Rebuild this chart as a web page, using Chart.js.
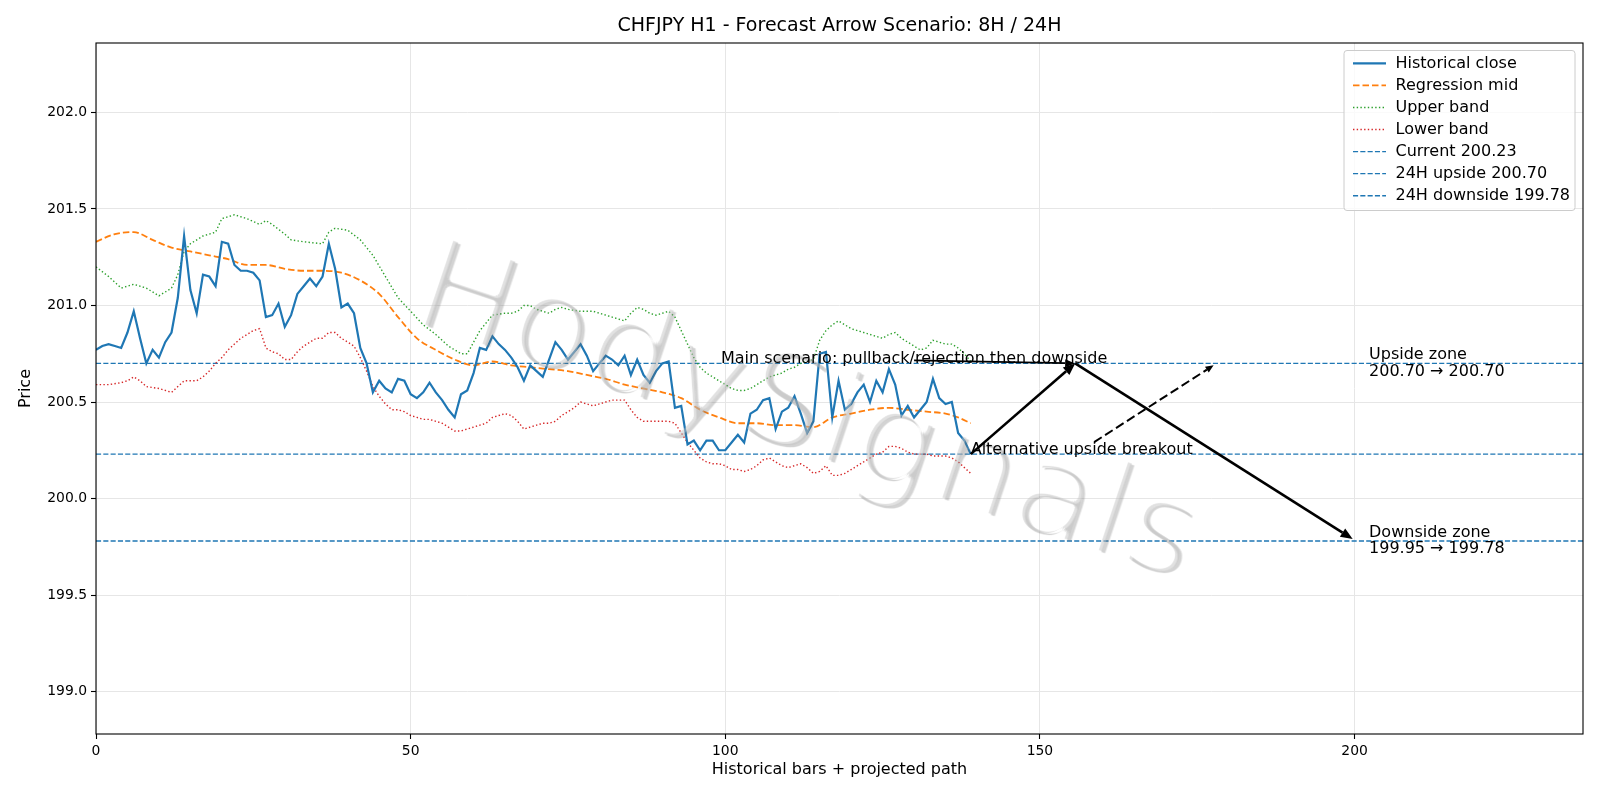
<!DOCTYPE html>
<html>
<head>
<meta charset="utf-8">
<script src="https://cdn.jsdelivr.net/npm/chart.js@4.4.0/dist/chart.umd.min.js"></script>
<style>
  body { margin: 0; background: #fff; }
  canvas { display: block; }
</style>
</head>
<body>
<canvas id="chart" width="1600" height="800"></canvas>
<script>
// historical closes, one per bar (x = 0..139)
const closeValues = [
  200.77, 200.79, 200.80, 200.79, 200.78, 200.86, 200.97, 200.83, 200.70, 200.77,
  200.73, 200.81, 200.86, 201.04, 201.36, 201.08, 200.96, 201.16, 201.15, 201.10,
  201.33, 201.32, 201.21, 201.18, 201.18, 201.17, 201.13, 200.94, 200.95, 201.01,
  200.89, 200.95, 201.06, 201.10, 201.14, 201.10, 201.15, 201.32, 201.19, 200.99,
  201.01, 200.96, 200.78, 200.70, 200.55, 200.61, 200.57, 200.55, 200.62, 200.61,
  200.54, 200.52, 200.55, 200.60, 200.55, 200.51, 200.46, 200.42, 200.54, 200.56,
  200.65, 200.78, 200.77, 200.84, 200.80, 200.77, 200.73, 200.68, 200.61, 200.69,
  200.66, 200.63, 200.72, 200.81, 200.77, 200.72, 200.76, 200.80, 200.74, 200.66,
  200.70, 200.74, 200.72, 200.69, 200.74, 200.64, 200.72, 200.64, 200.60, 200.66,
  200.70, 200.71, 200.47, 200.48, 200.28, 200.30, 200.25, 200.30, 200.30, 200.25,
  200.25, 200.29, 200.33, 200.29, 200.44, 200.46, 200.51, 200.52, 200.36, 200.45,
  200.47, 200.53, 200.44, 200.34, 200.40, 200.75, 200.76, 200.42, 200.61, 200.46,
  200.49, 200.55, 200.59, 200.50, 200.61, 200.55, 200.67, 200.59, 200.43, 200.48,
  200.42, 200.46, 200.50, 200.62, 200.52, 200.49, 200.50, 200.34, 200.30, 200.23
];

// regression mid (read every 3 bars)
const midX = [0, 3, 6, 9, 12, 15, 18, 21, 24, 27, 30, 33, 36, 39, 42, 45, 48, 51, 54, 57,
  60, 63, 66, 69, 72, 75, 78, 81, 84, 87, 90, 93, 96, 99, 102, 105, 108, 111, 114, 117,
  120, 123, 126, 129, 132, 135, 137, 139];
const midValues = [201.33, 201.37, 201.38, 201.34, 201.30, 201.28, 201.26, 201.24, 201.21, 201.21,
  201.19, 201.18, 201.18, 201.17, 201.13, 201.06, 200.94, 200.83, 200.77, 200.72,
  200.69, 200.71, 200.69, 200.68, 200.67, 200.66, 200.64, 200.62, 200.59, 200.57,
  200.55, 200.52, 200.46, 200.42, 200.39, 200.39, 200.38, 200.38, 200.37, 200.42,
  200.44, 200.46, 200.47, 200.46, 200.45, 200.44, 200.42, 200.39];

const upperX = [0, 2, 4, 6, 8, 10, 12, 13, 14, 15, 17, 19, 20, 22, 24, 26, 27, 28, 30, 31,
  33, 36, 37, 38, 40, 42, 44, 46, 48, 50, 52, 54, 56, 58, 59, 60, 61, 62, 63, 65,
  66, 67, 68, 69, 70, 72, 73, 74, 75, 77, 79, 81, 83, 84, 85, 86, 87, 88, 89, 90,
  91, 92, 93, 94, 95, 96, 97, 98, 99, 100, 101, 102, 103, 104, 105, 106, 107, 108, 109, 110,
  111, 112, 113, 114, 115, 116, 117, 118, 119, 120, 121, 122, 123, 124, 125, 126, 127, 128, 129, 130,
  131, 132, 133, 134, 135, 136, 137, 138, 139];
const upperValues = [201.20, 201.15, 201.09, 201.11, 201.09, 201.05, 201.09, 201.16, 201.28, 201.32,
  201.36, 201.38, 201.45, 201.47, 201.45, 201.42, 201.44, 201.42, 201.37, 201.34,
  201.33, 201.32, 201.38, 201.40, 201.39, 201.34, 201.26, 201.15, 201.04, 200.97,
  200.90, 200.85, 200.79, 200.75, 200.75, 200.81, 200.87, 200.91, 200.95, 200.96,
  200.96, 200.97, 201.00, 201.00, 200.98, 200.96, 200.98, 200.99, 200.98, 200.97,
  200.97, 200.95, 200.93, 200.92, 200.96, 200.99, 200.98, 200.96, 200.95, 200.96,
  200.97, 200.94, 200.87, 200.80, 200.73, 200.68, 200.65, 200.63, 200.61, 200.59,
  200.57, 200.56, 200.56, 200.57, 200.59, 200.61, 200.63, 200.64, 200.65, 200.67,
  200.68, 200.70, 200.71, 200.72, 200.82, 200.87, 200.90, 200.92, 200.90, 200.88,
  200.87, 200.86, 200.85, 200.84, 200.83, 200.85, 200.86, 200.83, 200.81, 200.79,
  200.77, 200.78, 200.82, 200.81, 200.80, 200.80, 200.78, 200.75, 200.71];

const lowerX = [0, 2, 4, 5, 6, 7, 8, 10, 12, 13, 14, 16, 17, 18, 19, 20, 21, 22, 23, 24,
  25, 26, 27, 28, 29, 30, 31, 32, 33, 34, 35, 36, 37, 38, 39, 40, 41, 42, 43, 44,
  45, 46, 47, 48, 49, 50, 51, 52, 53, 54, 55, 56, 57, 58, 59, 60, 61, 62, 63, 64,
  65, 66, 67, 68, 69, 70, 71, 72, 73, 74, 75, 76, 77, 78, 79, 80, 81, 82, 83, 84,
  85, 86, 87, 88, 89, 90, 91, 92, 93, 94, 95, 96, 97, 98, 99, 100, 101, 102, 103, 104,
  105, 106, 107, 108, 109, 110, 111, 112, 113, 114, 115, 116, 117, 118, 119, 120, 121, 122, 123, 124,
  125, 126, 127, 128, 129, 130, 131, 132, 133, 134, 135, 136, 137, 138, 139];
const lowerValues = [200.59, 200.59, 200.60, 200.61, 200.63, 200.61, 200.58, 200.57, 200.55, 200.58,
  200.61, 200.61, 200.63, 200.66, 200.70, 200.73, 200.77, 200.80, 200.83, 200.85,
  200.87, 200.88, 200.78, 200.76, 200.75, 200.72, 200.72, 200.76, 200.79, 200.81,
  200.83, 200.83, 200.86, 200.86, 200.83, 200.81, 200.79, 200.73, 200.66, 200.58,
  200.53, 200.49, 200.46, 200.46, 200.45, 200.43, 200.42, 200.41, 200.41, 200.40,
  200.39, 200.37, 200.35, 200.35, 200.36, 200.37, 200.38, 200.39, 200.42, 200.43,
  200.44, 200.43, 200.40, 200.36, 200.37, 200.38, 200.39, 200.39, 200.40, 200.43,
  200.45, 200.47, 200.50, 200.49, 200.48, 200.49, 200.50, 200.51, 200.51, 200.51,
  200.46, 200.42, 200.40, 200.40, 200.40, 200.40, 200.40, 200.39, 200.34, 200.29,
  200.25, 200.21, 200.19, 200.18, 200.18, 200.17, 200.15, 200.15, 200.14, 200.15,
  200.17, 200.20, 200.21, 200.19, 200.17, 200.16, 200.17, 200.18, 200.16, 200.13,
  200.14, 200.17, 200.12, 200.12, 200.13, 200.15, 200.17, 200.19, 200.21, 200.23,
  200.24, 200.27, 200.27, 200.26, 200.24, 200.23, 200.23, 200.23, 200.22, 200.22,
  200.22, 200.21, 200.19, 200.16, 200.13];

const levelValues = [200.23, 200.70, 199.78];
const levelLabels = ['Current 200.23', '24H upside 200.70', '24H downside 199.78'];

const xTicks = [0, 50, 100, 150, 200];
const yTicks = [199.0, 199.5, 200.0, 200.5, 201.0, 201.5, 202.0];
const xRange = [0, 236.3];
const yRange = [198.78, 202.36];

// projected path: last close -> upside test -> downside target
const mainPathX = [139, 155.6, 199.7];
const mainPathY = [200.23, 200.70, 199.79];
const altTarget = [177.6, 200.69];
const mainText = { text: 'Main scenario: pullback/rejection then downside', x: 99.3, y: 200.70 };
const altText = { text: 'Alternative upside breakout', x: 139, y: 200.23 };
const zoneTexts = [
  { lines: ['Upside zone', '200.70 \u2192 200.70'], x: 202.3, y: 200.70 },
  { lines: ['Downside zone', '199.95 \u2192 199.78'], x: 202.3, y: 199.78 }
];
const watermark = 'HodySignals';

const FONT = '"DejaVu Sans", "Liberation Sans", sans-serif';
const BLUE = '#1f77b4', ORANGE = '#ff7f0e', GREEN = '#2ca02c', RED = '#d62728';

const pts = (xs, ys) => xs.map((x, i) => ({ x: x, y: ys[i] }));

const datasets = [
  { label: 'Historical close', data: closeValues.map((v, i) => ({ x: i, y: v })),
    borderColor: BLUE, borderWidth: 2.2, borderDash: [] },
  { label: 'Regression mid', data: pts(midX, midValues),
    borderColor: ORANGE, borderWidth: 1.8, borderDash: [6.5, 3], cubicInterpolationMode: 'monotone' },
  { label: 'Upper band', data: pts(upperX, upperValues),
    borderColor: GREEN, borderWidth: 1.4, borderDash: [1.4, 2.3] },
  { label: 'Lower band', data: pts(lowerX, lowerValues),
    borderColor: RED, borderWidth: 1.4, borderDash: [1.4, 2.3] }
];
levelValues.forEach((v, i) => {
  datasets.push({ label: levelLabels[i], data: [{ x: xRange[0], y: v }, { x: xRange[1], y: v }],
    borderColor: BLUE, borderWidth: 1.4, borderDash: [5.1, 2.2] });
});
datasets.forEach(d => { d.pointRadius = 0; d.fill = false; d.tension = 0; });

function arrow(ctx, x1, y1, x2, y2, width, dash, headLen, headHalf) {
  const a = Math.atan2(y2 - y1, x2 - x1);
  const bx = x2 - Math.cos(a) * headLen, by = y2 - Math.sin(a) * headLen;
  ctx.save();
  ctx.strokeStyle = '#000';
  ctx.fillStyle = '#000';
  ctx.lineWidth = width;
  ctx.setLineDash(dash);
  ctx.beginPath();
  ctx.moveTo(x1, y1);
  ctx.lineTo(bx, by);
  ctx.stroke();
  ctx.setLineDash([]);
  ctx.beginPath();
  ctx.moveTo(x2, y2);
  ctx.lineTo(bx + Math.sin(a) * headHalf, by - Math.cos(a) * headHalf);
  ctx.lineTo(bx - Math.sin(a) * headHalf, by + Math.cos(a) * headHalf);
  ctx.closePath();
  ctx.fill();
  ctx.restore();
}

// thin-stroked watermark: draw the text, erode it a bit, then tint
function watermarkLayer(color) {
  const w = 1600, h = 800;
  const a = document.createElement('canvas');
  a.width = w; a.height = h;
  const o = a.getContext('2d');
  o.translate(806, 420);
  o.rotate(18.5 * Math.PI / 180);
  o.font = '132px ' + FONT;
  o.textAlign = 'center';
  o.textBaseline = 'middle';
  o.fillStyle = '#000';
  o.fillText(watermark, 0, 0);
  const b = document.createElement('canvas');
  b.width = w; b.height = h;
  b.getContext('2d').drawImage(a, 0, 0);
  o.setTransform(1, 0, 0, 1, 0, 0);
  o.globalCompositeOperation = 'destination-in';
  for (let k = 0; k < 12; k++) {
    const t = k * Math.PI / 6;
    o.drawImage(b, 3.8 * Math.cos(t), 3.8 * Math.sin(t));
  }
  o.globalCompositeOperation = 'source-in';
  o.fillStyle = color;
  o.fillRect(0, 0, w, h);
  return a;
}

const overlay = {
  id: 'overlay',
  afterDatasetsDraw(chart) {
    const ctx = chart.ctx;
    const xs = chart.scales.x, ys = chart.scales.y;
    const area = chart.chartArea;
    const X = v => xs.getPixelForValue(v), Y = v => ys.getPixelForValue(v);

    // watermark
    ctx.save();
    ctx.beginPath();
    ctx.rect(area.left, area.top, area.right - area.left, area.bottom - area.top);
    ctx.clip();
    ctx.globalAlpha = 0.3;
    ctx.drawImage(watermarkLayer('rgb(110,110,110)'), 2.5, 2);
    ctx.globalAlpha = 0.5;
    ctx.drawImage(watermarkLayer('rgb(195,195,195)'), 0, 0);
    ctx.restore();

    // projected path arrows
    for (let i = 0; i < mainPathX.length - 1; i++) {
      arrow(ctx, X(mainPathX[i]), Y(mainPathY[i]), X(mainPathX[i + 1]), Y(mainPathY[i + 1]), 2.6, [], 12, 5);
    }

    ctx.font = '16px ' + FONT;
    ctx.fillStyle = '#000';
    ctx.textAlign = 'left';
    ctx.textBaseline = 'alphabetic';

    // main scenario label + its arrow
    const mx = X(mainText.x), my = Y(mainText.y);
    const mw = ctx.measureText(mainText.text).width;
    ctx.fillText(mainText.text, mx, my);
    arrow(ctx, mx + mw / 2, my - 3, X(mainPathX[1]), Y(mainPathY[1]), 1.7, [], 10, 4);

    // alternative label + dashed arrow from its box edge
    ctx.font = '16px ' + FONT;
    const ax = X(altText.x), ay = Y(altText.y);
    const aw = ctx.measureText(altText.text).width;
    ctx.fillText(altText.text, ax, ay);
    const box = { l: ax, r: ax + aw, t: ay - 12, b: ay + 4 };
    const cx = (box.l + box.r) / 2, cy = (box.t + box.b) / 2;
    const tx = X(altTarget[0]), ty = Y(altTarget[1]);
    const dx = tx - cx, dy = ty - cy;
    const sx = dx > 0 ? (box.r - cx) / dx : (box.l - cx) / dx;
    const sy = dy < 0 ? (box.t - cy) / dy : (box.b - cy) / dy;
    let s = Math.min(sx, sy);
    if (s >= 1) s = 0;
    arrow(ctx, cx + dx * s, cy + dy * s, tx, ty, 2, [9, 4], 8, 3.5);

    // zone labels
    ctx.font = '16px ' + FONT;
    ctx.fillStyle = '#000';
    zoneTexts.forEach(z => {
      const zx = X(z.x), zy = Y(z.y);
      ctx.fillText(z.lines[0], zx, zy - 4.4);
      ctx.fillText(z.lines[1], zx, zy + 12.3);
    });
  },
  afterDraw(chart) {
    const ctx = chart.ctx;
    const area = chart.chartArea;
    // axes frame
    ctx.save();
    ctx.strokeStyle = '#000';
    ctx.lineWidth = 1.1;
    ctx.strokeRect(area.left, area.top, area.right - area.left, area.bottom - area.top);

    // title
    ctx.font = '19px ' + FONT;
    ctx.fillStyle = '#000';
    ctx.textAlign = 'center';
    ctx.textBaseline = 'middle';
    ctx.fillText('CHFJPY H1 - Forecast Arrow Scenario: 8H / 24H', (area.left + area.right) / 2, 26.5);

    // legend
    const lx = 1344, ly = 50.5, lw = 231, lh = 160;
    ctx.beginPath();
    ctx.roundRect(lx, ly, lw, lh, 3);
    ctx.fillStyle = 'rgba(255,255,255,0.8)';
    ctx.fill();
    ctx.strokeStyle = '#cccccc';
    ctx.lineWidth = 1;
    ctx.stroke();
    ctx.font = '16px ' + FONT;
    ctx.textAlign = 'left';
    ctx.textBaseline = 'middle';
    chart.data.datasets.forEach((d, i) => {
      const ry = 63.3 + i * 22.07;
      ctx.beginPath();
      ctx.strokeStyle = d.borderColor;
      ctx.lineWidth = d.borderWidth;
      ctx.setLineDash(d.borderDash);
      ctx.moveTo(1353, ry);
      ctx.lineTo(1386, ry);
      ctx.stroke();
      ctx.setLineDash([]);
      ctx.fillStyle = '#000';
      ctx.fillText(d.label, 1395.5, ry + 0.5);
    });
    ctx.restore();
  }
};

new Chart(document.getElementById('chart'), {
  type: 'line',
  data: { datasets: datasets },
  options: {
    responsive: false,
    animation: false,
    devicePixelRatio: 1,
    parsing: false,
    layout: { padding: { left: 0, right: 17, top: 43, bottom: 0 } },
    plugins: { legend: { display: false }, title: { display: false }, tooltip: { enabled: false } },
    scales: {
      x: {
        type: 'linear',
        min: xRange[0],
        max: xRange[1],
        afterBuildTicks: s => { s.ticks = xTicks.map(v => ({ value: v })); },
        afterFit: s => { s.height = 66; },
        grid: { color: '#e6e6e6', lineWidth: 1, tickLength: 5, tickColor: '#000', tickWidth: 1.1 },
        border: { display: false },
        ticks: { color: '#000', font: { family: FONT, size: 13.9 }, padding: 4, maxRotation: 0,
          callback: v => String(v) },
        title: { display: true, text: 'Historical bars + projected path', color: '#000',
          font: { family: FONT, size: 16 }, padding: { top: 4, bottom: 20.5 } }
      },
      y: {
        type: 'linear',
        min: yRange[0],
        max: yRange[1],
        afterBuildTicks: s => { s.ticks = yTicks.map(v => ({ value: v })); },
        afterFit: s => { s.width = 96; },
        grid: { color: '#e6e6e6', lineWidth: 1, tickLength: 5, tickColor: '#000', tickWidth: 1.1 },
        border: { display: false },
        ticks: { color: '#000', font: { family: FONT, size: 13.9 }, padding: 4,
          callback: v => v.toFixed(1) },
        title: { display: true, text: 'Price', color: '#000',
          font: { family: FONT, size: 16 }, padding: { top: 16, bottom: 4 } }
      }
    }
  },
  plugins: [overlay]
});
</script>
</body>
</html>
